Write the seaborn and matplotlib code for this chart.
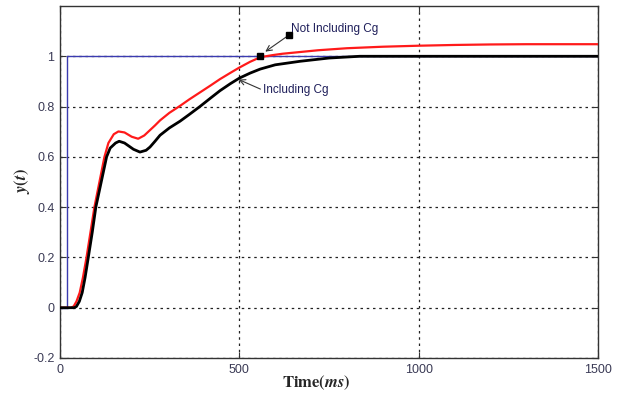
import numpy as np
import pandas as pd
import matplotlib
matplotlib.use("Agg")
import matplotlib.pyplot as plt
import seaborn as sns

# Step input
t_step = [0, 20, 20, 1500]
y_step = [0, 0, 1, 1]

# Response without Cg
t_red = [0, 30, 38, 46, 55, 64, 74, 85, 96, 110, 124, 135, 150, 163, 180, 200, 218,
         235, 250, 265, 279, 305, 335, 360, 390, 420, 446, 475, 500, 530, 558, 590,
         620, 670, 720, 800, 900, 1000, 1100, 1200, 1300, 1500]
y_red = [0, 0, 0.005, 0.025, 0.06, 0.12, 0.2, 0.3, 0.4, 0.5, 0.6, 0.655, 0.69, 0.701,
         0.697, 0.68, 0.672, 0.685, 0.705, 0.725, 0.745, 0.775, 0.803, 0.828, 0.856,
         0.884, 0.909, 0.934, 0.955, 0.978, 0.996, 1.004, 1.01, 1.017, 1.024, 1.032,
         1.038, 1.042, 1.045, 1.047, 1.048, 1.048]

# Response with Cg
t_blk = [0, 40, 46, 54, 62, 70, 79, 90, 100, 115, 130, 140, 155, 165, 180, 205, 223,
         240, 251, 265, 279, 305, 335, 360, 390, 420, 446, 475, 500, 530, 558, 600,
         669, 750, 836, 1500]
y_blk = [0, 0, 0.005, 0.025, 0.06, 0.12, 0.2, 0.3, 0.4, 0.5, 0.6, 0.635, 0.655, 0.662,
         0.655, 0.63, 0.619, 0.626, 0.639, 0.662, 0.686, 0.715, 0.742, 0.768, 0.80,
         0.834, 0.863, 0.891, 0.913, 0.933, 0.949, 0.966, 0.980, 0.993, 1.0, 1.0]

x_ticks = [0, 500, 1000, 1500]
y_ticks = [-0.2, 0, 0.2, 0.4, 0.6, 0.8, 1]
y_tick_labels = ["-0.2", "0", "0.2", "0.4", "0.6", "0.8", "1"]

sns.set_style("white")
plt.rcParams["font.family"] = ["Liberation Sans", "DejaVu Sans"]
plt.rcParams["mathtext.fontset"] = "stix"

fig = plt.figure(figsize=(6.26, 3.94), dpi=100)
ax = fig.add_axes([0.0958, 0.0914, 0.8595, 0.8934])

step_df = pd.DataFrame({"t": t_step, "y": y_step})
red_df = pd.DataFrame({"t": t_red, "y": y_red})
blk_df = pd.DataFrame({"t": t_blk, "y": y_blk})

sns.lineplot(data=step_df, x="t", y="y", sort=False, estimator=None, ax=ax,
             color="#3b3bb0", lw=1.0, zorder=3)
sns.lineplot(data=red_df, x="t", y="y", sort=False, estimator=None, ax=ax,
             color="#ff1a1a", lw=1.6, zorder=4)
sns.lineplot(data=blk_df, x="t", y="y", sort=False, estimator=None, ax=ax,
             color="black", lw=2.0, zorder=5)

ax.set_xlim(0, 1500)
ax.set_ylim(-0.2, 1.2)
ax.set_xticks(x_ticks)
ax.set_xticklabels([str(v) for v in x_ticks])
ax.set_yticks(y_ticks)
ax.set_yticklabels(y_tick_labels)

ax.grid(True, color="#222222", linestyle=(0, (2, 3)), linewidth=0.9)
ax.set_axisbelow(True)
for s in ax.spines.values():
    s.set_color("#333333")
    s.set_linewidth(1.0)
ax.tick_params(direction="in", length=4, width=0.8, color="#333333",
               labelsize=9, labelcolor="#3a3a55", top=True, right=True,
               bottom=True, left=True, pad=4)

ax.set_xlabel("")
ax.set_ylabel("")
fig.text(0.505, 0.028, r"$\mathbf{Time(}\boldsymbol{ms}\mathbf{)}$", ha="center", va="center",
         fontsize=12)
fig.text(0.035, 0.54, r"$\boldsymbol{y(t)}$", rotation=90, ha="center", va="center",
         fontsize=12)

# Annotations
txt_col = "#1e1e5a"
ax.plot([558], [1.0], marker="s", ms=5, color="black", zorder=6)
ax.plot([638], [1.084], marker="s", ms=5, color="black", zorder=6)
ax.annotate("", xy=(566, 1.012), xytext=(638, 1.084),
            arrowprops=dict(arrowstyle="->", color="#333333", lw=0.8))
ax.text(645, 1.11, "Not Including Cg", fontsize=8.5, color=txt_col, ha="left", va="center")
ax.annotate("", xy=(491, 0.912), xytext=(566, 0.865),
            arrowprops=dict(arrowstyle="->", color="#333333", lw=0.8))
ax.text(566, 0.865, "Including Cg", fontsize=8.5, color=txt_col, ha="left", va="center")

fig.savefig("out.png", dpi=100, facecolor="white")
